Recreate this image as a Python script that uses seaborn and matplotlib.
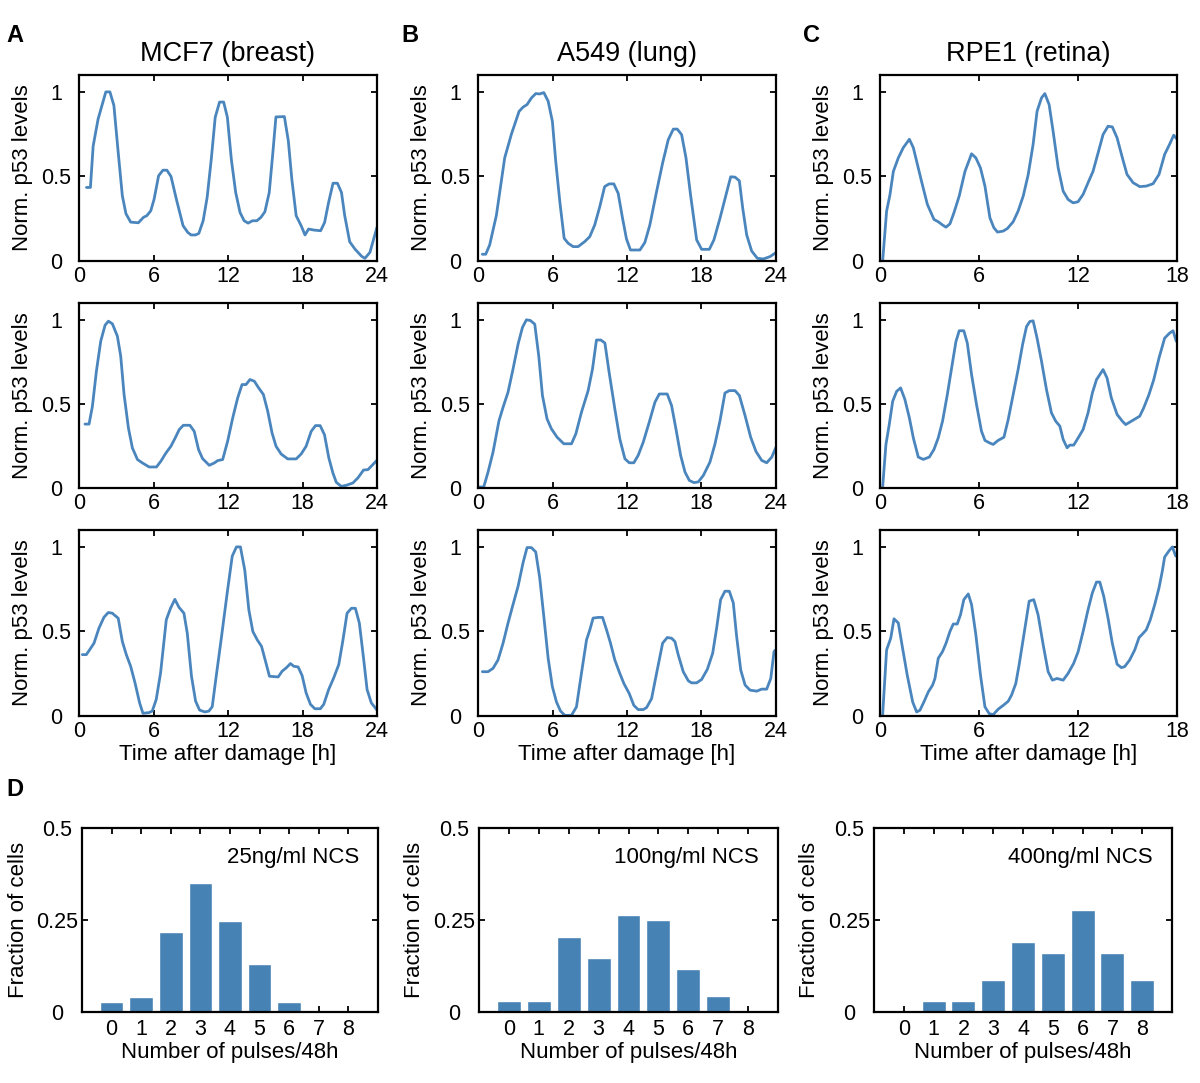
import numpy as np
import pandas as pd
import matplotlib
matplotlib.use('Agg')
import matplotlib.pyplot as plt
import seaborn as sns

# p53 traces (time in hours, normalised level)
mcf7_1_t = [0.6, 0.92, 1.14, 1.54, 2.16, 2.49, 2.81, 3.16, 3.49, 3.78, 4.16, 4.78, 5.19, 5.46, 5.78, 6.05, 6.41, 6.76, 7.08, 7.41, 7.84, 8.38, 8.76, 9.03, 9.38, 9.65, 10.0, 10.32, 10.65, 10.97, 11.32, 11.65, 11.95, 12.27, 12.62, 12.97, 13.3, 13.62, 13.97, 14.32, 14.65, 14.97, 15.32, 15.6, 15.86, 16.54, 16.86, 17.14, 17.49, 17.89, 18.2, 18.49, 18.92, 19.46, 19.78, 20.1, 20.46, 20.81, 21.14, 21.4, 21.8, 22.22, 22.76, 23.03, 23.43, 24.0]
mcf7_1_v = [0.435, 0.435, 0.68, 0.84, 1.0, 1.0, 0.92, 0.64, 0.386, 0.28, 0.23, 0.226, 0.258, 0.268, 0.297, 0.366, 0.504, 0.537, 0.537, 0.5, 0.366, 0.209, 0.169, 0.154, 0.154, 0.163, 0.238, 0.376, 0.6, 0.85, 0.94, 0.94, 0.85, 0.6, 0.405, 0.287, 0.238, 0.224, 0.238, 0.238, 0.258, 0.291, 0.405, 0.63, 0.852, 0.854, 0.71, 0.484, 0.268, 0.209, 0.154, 0.189, 0.183, 0.179, 0.228, 0.346, 0.46, 0.46, 0.405, 0.268, 0.114, 0.071, 0.028, 0.016, 0.051, 0.2]

mcf7_2_t = [0.48, 0.81, 1.08, 1.4, 1.75, 2.1, 2.37, 2.69, 3.09, 3.36, 3.63, 3.98, 4.3, 4.71, 5.11, 5.65, 6.24, 6.59, 7.0, 7.4, 7.75, 8.07, 8.4, 8.93, 9.28, 9.63, 9.95, 10.49, 10.9, 11.17, 11.57, 11.97, 12.38, 12.78, 13.13, 13.45, 13.77, 14.12, 14.47, 14.85, 15.2, 15.55, 15.87, 16.28, 16.81, 17.49, 17.89, 18.29, 18.7, 19.05, 19.42, 19.77, 20.12, 20.45, 20.72, 21.12, 21.52, 22.06, 22.46, 22.92, 23.27, 24.0]
mcf7_2_v = [0.38, 0.38, 0.486, 0.694, 0.873, 0.968, 0.992, 0.976, 0.903, 0.784, 0.556, 0.357, 0.238, 0.169, 0.149, 0.125, 0.125, 0.159, 0.208, 0.248, 0.298, 0.347, 0.373, 0.373, 0.337, 0.228, 0.175, 0.135, 0.149, 0.163, 0.169, 0.278, 0.417, 0.536, 0.615, 0.615, 0.645, 0.635, 0.595, 0.556, 0.456, 0.327, 0.248, 0.202, 0.173, 0.173, 0.202, 0.248, 0.337, 0.371, 0.371, 0.317, 0.179, 0.089, 0.034, 0.01, 0.016, 0.03, 0.06, 0.107, 0.109, 0.165]

mcf7_3_t = [0.27, 0.59, 0.86, 1.21, 1.61, 2.01, 2.36, 2.68, 3.16, 3.49, 3.81, 4.16, 4.51, 4.88, 5.15, 5.63, 5.9, 6.22, 6.57, 7.03, 7.37, 7.72, 8.05, 8.45, 8.72, 9.06, 9.39, 9.71, 10.14, 10.46, 10.73, 11.05, 11.48, 11.93, 12.34, 12.68, 13.0, 13.35, 13.68, 14.0, 14.35, 14.7, 15.02, 15.34, 16.04, 16.36, 16.68, 17.03, 17.3, 17.65, 17.97, 18.29, 18.64, 18.99, 19.44, 19.71, 20.11, 20.51, 20.92, 21.24, 21.59, 21.94, 22.26, 22.58, 22.93, 23.2, 23.54, 24.0]
mcf7_3_v = [0.363, 0.363, 0.392, 0.431, 0.52, 0.584, 0.612, 0.608, 0.578, 0.441, 0.363, 0.294, 0.196, 0.078, 0.016, 0.02, 0.029, 0.098, 0.255, 0.569, 0.637, 0.69, 0.643, 0.608, 0.49, 0.235, 0.088, 0.035, 0.024, 0.029, 0.055, 0.235, 0.47, 0.725, 0.945, 1.0, 1.0, 0.863, 0.627, 0.5, 0.451, 0.412, 0.324, 0.235, 0.231, 0.265, 0.284, 0.31, 0.294, 0.29, 0.239, 0.137, 0.069, 0.043, 0.043, 0.069, 0.157, 0.225, 0.304, 0.441, 0.608, 0.637, 0.637, 0.549, 0.333, 0.157, 0.078, 0.035]

a549_1_t = [0.35, 0.62, 0.94, 1.48, 2.15, 2.69, 3.31, 3.63, 3.95, 4.3, 4.65, 4.97, 5.3, 5.65, 5.99, 6.26, 6.59, 6.94, 7.26, 7.66, 8.06, 8.6, 9.0, 9.4, 9.81, 10.2, 10.56, 10.94, 11.29, 11.64, 11.96, 12.28, 13.04, 13.44, 13.84, 14.38, 14.87, 15.32, 15.73, 16.05, 16.4, 16.75, 17.12, 17.61, 18.01, 18.63, 19.0, 19.49, 19.97, 20.35, 20.7, 21.05, 21.32, 21.64, 22.04, 22.5, 22.98, 23.52, 24.0]
a549_1_v = [0.04, 0.04, 0.095, 0.27, 0.61, 0.75, 0.885, 0.91, 0.925, 0.964, 0.99, 0.988, 0.996, 0.945, 0.826, 0.59, 0.35, 0.134, 0.105, 0.085, 0.085, 0.115, 0.144, 0.213, 0.322, 0.44, 0.456, 0.456, 0.4, 0.253, 0.13, 0.065, 0.065, 0.11, 0.213, 0.41, 0.58, 0.717, 0.78, 0.78, 0.747, 0.61, 0.39, 0.125, 0.069, 0.069, 0.125, 0.253, 0.39, 0.498, 0.496, 0.474, 0.312, 0.154, 0.059, 0.016, 0.012, 0.026, 0.05]

a549_2_t = [0.13, 0.46, 0.81, 1.21, 1.69, 2.02, 2.42, 2.82, 3.23, 3.58, 3.9, 4.22, 4.57, 4.89, 5.19, 5.56, 5.91, 6.37, 6.91, 7.53, 7.88, 8.33, 8.87, 9.22, 9.54, 9.89, 10.22, 10.56, 11.02, 11.42, 11.83, 12.18, 12.55, 12.9, 13.31, 13.79, 14.25, 14.6, 15.24, 15.59, 15.94, 16.32, 16.67, 17.02, 17.39, 17.74, 18.15, 18.68, 19.09, 19.49, 19.89, 20.24, 20.7, 21.05, 21.51, 21.96, 22.39, 22.85, 23.25, 23.66, 24.0]
a549_2_v = [0.006, 0.006, 0.095, 0.213, 0.4, 0.48, 0.57, 0.707, 0.856, 0.955, 1.0, 0.996, 0.974, 0.787, 0.55, 0.411, 0.352, 0.302, 0.263, 0.263, 0.322, 0.45, 0.579, 0.707, 0.88, 0.88, 0.862, 0.688, 0.47, 0.292, 0.174, 0.15, 0.15, 0.194, 0.273, 0.391, 0.51, 0.559, 0.559, 0.49, 0.352, 0.194, 0.095, 0.045, 0.032, 0.036, 0.075, 0.154, 0.263, 0.4, 0.565, 0.579, 0.579, 0.55, 0.43, 0.302, 0.217, 0.164, 0.15, 0.184, 0.243]

a549_3_t = [0.35, 0.81, 1.21, 1.61, 2.02, 2.42, 2.82, 3.23, 3.63, 3.95, 4.3, 4.65, 4.97, 5.3, 5.65, 5.99, 6.32, 6.64, 6.99, 7.53, 7.93, 8.33, 8.74, 9.01, 9.27, 9.68, 10.03, 10.35, 10.67, 11.02, 11.42, 11.75, 12.18, 12.55, 12.9, 13.31, 13.58, 13.98, 14.38, 14.87, 15.24, 15.59, 15.86, 16.13, 16.53, 16.94, 17.2, 17.61, 18.01, 18.47, 18.9, 19.22, 19.54, 19.89, 20.24, 20.56, 20.83, 21.16, 21.51, 21.91, 22.45, 22.85, 23.25, 23.58, 23.84, 23.95]
a549_3_v = [0.262, 0.262, 0.282, 0.331, 0.431, 0.55, 0.659, 0.768, 0.907, 0.996, 0.996, 0.97, 0.817, 0.589, 0.341, 0.173, 0.083, 0.03, 0.004, 0.004, 0.054, 0.252, 0.45, 0.51, 0.579, 0.583, 0.583, 0.51, 0.431, 0.331, 0.252, 0.192, 0.133, 0.063, 0.038, 0.038, 0.05, 0.103, 0.252, 0.431, 0.464, 0.46, 0.44, 0.361, 0.262, 0.208, 0.196, 0.196, 0.216, 0.276, 0.371, 0.52, 0.688, 0.738, 0.738, 0.669, 0.47, 0.272, 0.183, 0.153, 0.147, 0.159, 0.159, 0.222, 0.381, 0.39]

rpe1_1_t = [0.16, 0.4, 0.6, 0.81, 1.11, 1.41, 1.78, 2.02, 2.22, 2.52, 2.87, 3.27, 3.53, 3.79, 4.0, 4.24, 4.48, 4.8, 5.15, 5.55, 5.81, 6.09, 6.36, 6.66, 6.9, 7.12, 7.47, 7.73, 8.07, 8.37, 8.68, 8.98, 9.28, 9.52, 9.79, 9.99, 10.25, 10.49, 10.8, 11.1, 11.4, 11.7, 12.0, 12.31, 12.61, 12.91, 13.22, 13.52, 13.82, 14.08, 14.37, 14.69, 14.97, 15.34, 15.74, 16.14, 16.55, 16.91, 17.25, 17.55, 17.8, 18.0]
rpe1_1_v = [0.0, 0.295, 0.39, 0.53, 0.61, 0.67, 0.72, 0.67, 0.59, 0.47, 0.335, 0.246, 0.232, 0.213, 0.2, 0.22, 0.285, 0.384, 0.53, 0.634, 0.61, 0.55, 0.443, 0.256, 0.197, 0.171, 0.177, 0.193, 0.232, 0.295, 0.384, 0.51, 0.69, 0.886, 0.965, 0.99, 0.925, 0.768, 0.55, 0.413, 0.364, 0.344, 0.35, 0.394, 0.463, 0.53, 0.64, 0.748, 0.797, 0.793, 0.728, 0.61, 0.512, 0.463, 0.44, 0.443, 0.457, 0.512, 0.63, 0.69, 0.744, 0.72]

rpe1_2_t = [0.16, 0.36, 0.56, 0.77, 1.01, 1.25, 1.51, 1.78, 2.02, 2.32, 2.62, 2.99, 3.27, 3.53, 3.79, 4.08, 4.34, 4.6, 4.8, 5.08, 5.29, 5.55, 5.85, 6.15, 6.36, 6.62, 6.86, 7.16, 7.51, 7.77, 8.07, 8.37, 8.64, 8.88, 9.08, 9.28, 9.52, 9.79, 10.09, 10.39, 10.65, 10.9, 11.1, 11.34, 11.5, 11.74, 12.01, 12.31, 12.61, 12.87, 13.12, 13.52, 13.76, 14.02, 14.37, 14.69, 14.89, 15.23, 15.74, 15.98, 16.3, 16.59, 16.91, 17.25, 17.55, 17.76, 17.96]
rpe1_2_v = [0.006, 0.259, 0.377, 0.516, 0.575, 0.595, 0.526, 0.417, 0.298, 0.184, 0.17, 0.184, 0.229, 0.298, 0.397, 0.555, 0.713, 0.87, 0.935, 0.935, 0.862, 0.674, 0.496, 0.338, 0.283, 0.269, 0.259, 0.283, 0.302, 0.407, 0.555, 0.704, 0.852, 0.96, 0.99, 0.994, 0.891, 0.753, 0.585, 0.447, 0.397, 0.368, 0.289, 0.239, 0.255, 0.255, 0.298, 0.348, 0.447, 0.565, 0.644, 0.704, 0.654, 0.536, 0.437, 0.397, 0.377, 0.397, 0.427, 0.476, 0.555, 0.644, 0.773, 0.891, 0.921, 0.935, 0.872]

rpe1_3_t = [0.16, 0.4, 0.65, 0.85, 1.11, 1.37, 1.65, 1.98, 2.22, 2.42, 2.66, 2.93, 3.19, 3.33, 3.53, 3.79, 4.0, 4.24, 4.44, 4.68, 4.88, 5.08, 5.35, 5.55, 5.81, 6.09, 6.36, 6.62, 6.86, 7.16, 7.47, 7.77, 7.97, 8.23, 8.43, 8.72, 9.04, 9.32, 9.58, 9.89, 10.19, 10.45, 10.73, 11.1, 11.4, 11.74, 12.01, 12.31, 12.61, 12.87, 13.12, 13.32, 13.56, 13.82, 14.08, 14.37, 14.63, 14.83, 15.13, 15.44, 15.7, 15.9, 16.14, 16.38, 16.65, 16.91, 17.11, 17.25, 17.51, 17.72, 17.92]
rpe1_3_v = [0.008, 0.391, 0.46, 0.575, 0.55, 0.4, 0.242, 0.083, 0.024, 0.034, 0.083, 0.143, 0.183, 0.222, 0.341, 0.381, 0.43, 0.5, 0.544, 0.544, 0.599, 0.688, 0.722, 0.659, 0.48, 0.242, 0.054, 0.014, 0.008, 0.04, 0.063, 0.087, 0.123, 0.192, 0.302, 0.48, 0.679, 0.688, 0.599, 0.421, 0.262, 0.212, 0.222, 0.212, 0.252, 0.312, 0.381, 0.5, 0.629, 0.728, 0.792, 0.792, 0.708, 0.579, 0.43, 0.306, 0.286, 0.292, 0.331, 0.391, 0.464, 0.484, 0.51, 0.569, 0.659, 0.758, 0.857, 0.94, 0.976, 1.0, 0.946]

# pulse-count histograms
pulses = [0, 1, 2, 3, 4, 5, 6, 7, 8]
frac_25 = [0.027, 0.042, 0.217, 0.35, 0.247, 0.13, 0.027, 0.0, 0.0]
frac_100 = [0.029, 0.029, 0.204, 0.147, 0.263, 0.249, 0.116, 0.043, 0.0]
frac_400 = [0.0, 0.029, 0.029, 0.086, 0.19, 0.16, 0.278, 0.16, 0.086]
doses = ['25ng/ml NCS', '100ng/ml NCS', '400ng/ml NCS']

titles = ['MCF7 (breast)', 'A549 (lung)', 'RPE1 (retina)']
letters = ['A', 'B', 'C']

sns.set_style('ticks')
plt.rcParams['font.family'] = ['Liberation Sans', 'DejaVu Sans']
plt.rcParams['text.color'] = 'black'
plt.rcParams['axes.labelcolor'] = 'black'
plt.rcParams['xtick.color'] = 'black'
plt.rcParams['ytick.color'] = 'black'

blue = '#4682B4'
line_blue = '#4a86bd'
W, H = 1200, 1083
fig = plt.figure(figsize=(12, 10.83), dpi=100)


def px_axes(x0, x1, y0, y1):
    return fig.add_axes([x0 / W, 1 - y1 / H, (x1 - x0) / W, (y1 - y0) / H])


def style(ax, ypad):
    for s in ax.spines.values():
        s.set_visible(True)
        s.set_linewidth(1.6)
        s.set_color('black')
    ax.tick_params(direction='in', top=True, right=True, length=4, width=1.3,
                   labelsize=15.5, colors='black')
    ax.tick_params(axis='y', pad=ypad)
    for lab in ax.get_yticklabels():
        lab.set_horizontalalignment('center')


traces = [
    [(mcf7_1_t, mcf7_1_v), (mcf7_2_t, mcf7_2_v), (mcf7_3_t, mcf7_3_v)],
    [(a549_1_t, a549_1_v), (a549_2_t, a549_2_v), (a549_3_t, a549_3_v)],
    [(rpe1_1_t, rpe1_1_v), (rpe1_2_t, rpe1_2_v), (rpe1_3_t, rpe1_3_v)],
]
col_x = [(79, 377), (478, 776), (880, 1177)]
row_y = [(75, 261), (303, 488), (530, 716)]
tmax = [24, 24, 18]

for c in range(3):
    for r in range(3):
        ax = px_axes(col_x[c][0], col_x[c][1], row_y[r][0], row_y[r][1])
        t, v = traces[c][r]
        df = pd.DataFrame({'t': t, 'v': v})
        sns.lineplot(data=df, x='t', y='v', ax=ax, color=line_blue, linewidth=2, estimator=None)
        ax.set_xlim(0, tmax[c])
        ax.set_ylim(0, 1.1)
        ax.set_xticks(np.arange(0, tmax[c] + 1, 6))
        ax.set_yticks([0, 0.5, 1])
        ax.set_yticklabels(['0', '0.5', '1'])
        style(ax, 16.5)
        ax.set_ylabel('Norm. p53 levels', fontsize=16)
        ax.yaxis.set_label_coords(-0.155, 0.5)
        if r == 2:
            ax.set_xlabel('Time after damage [h]', fontsize=16)
            ax.xaxis.set_label_coords(0.5, -0.15)
        else:
            ax.set_xlabel('')
        if r == 0:
            ax.set_title(titles[c], fontsize=19.5, pad=10)

for c, x in enumerate([15, 410, 812]):
    fig.text(x / W, 1 - 35 / H, letters[c], fontsize=17, fontweight='bold', ha='center', va='center')
fig.text(15 / W, 1 - 790 / H, 'D', fontsize=17, fontweight='bold', ha='center', va='center')

bar_x = [(82, 378), (479, 778), (874, 1172)]
fracs = [frac_25, frac_100, frac_400]
for i in range(3):
    ax = px_axes(bar_x[i][0], bar_x[i][1], 828, 1012)
    df = pd.DataFrame({'n': pulses, 'f': fracs[i]})
    sns.barplot(data=df, x='n', y='f', ax=ax, color=blue, saturation=1, width=0.8)
    ax.set_xlim(-1, 9)
    ax.set_ylim(0, 0.5)
    ax.set_yticks([0, 0.25, 0.5])
    ax.set_yticklabels(['0', '0.25', '0.5'])
    style(ax, 18)
    ax.tick_params(axis='x', pad=5)
    ax.set_ylabel('Fraction of cells', fontsize=16)
    ax.yaxis.set_label_coords(-0.18, 0.5)
    ax.set_xlabel('Number of pulses/48h', fontsize=16)
    ax.xaxis.set_label_coords(0.5, -0.165)
    ax.text(0.935, 0.84, doses[i], transform=ax.transAxes, fontsize=16, ha='right', va='center')

fig.savefig('out.png', dpi=100)
